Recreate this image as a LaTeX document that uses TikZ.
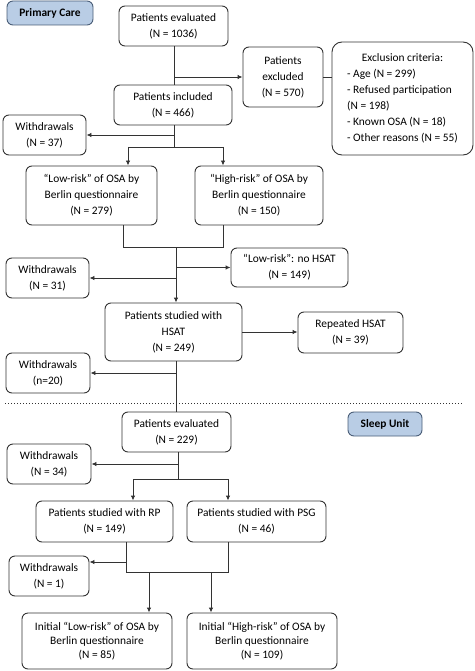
\documentclass[tikz,border=0pt]{standalone}
\usepackage{fontspec}
\setmainfont{Carlito}
\usetikzlibrary{arrows.meta}
\definecolor{boxline}{HTML}{333333}
\definecolor{bluefill}{HTML}{B9CDE5}
\definecolor{blueline}{HTML}{4A5E78}
\begin{document}
\begin{tikzpicture}[x=1pt,y=-1pt,
 box/.style={draw=boxline, line width=0.9pt, rounded corners=6pt, align=center, inner sep=0pt, font=\fontsize{11.4}{16}\selectfont},
 tightbox/.style={box, font=\fontsize{11.4}{14}\selectfont},
 conn/.style={draw=boxline, line width=0.9pt},
 arr/.style={conn, -{Latex[length=5pt,width=4.5pt]}},
 sectlabel/.style={box, fill=bluefill, draw=blueline, font=\fontsize{11.4}{14}\selectfont\bfseries}]
\useasboundingbox (0,0) rectangle (474,671);

% Primary care part
\node[sectlabel, minimum width=86pt, minimum height=24pt] (pc) at (50,13) {Primary Care};
\node[box, minimum width=109pt, minimum height=40pt] (eval1) at (173.5,26) {Patients evaluated\\(N = 1036)};
\node[box, minimum width=80pt, minimum height=60pt] (excl) at (283,77) {Patients\\excluded\\(N = 570)};
\node[box, rounded corners=10pt, minimum width=141pt, minimum height=113pt] (crit) at (402.5,98.5)
 {\begin{tabular}{@{}l@{}}\multicolumn{1}{@{}c@{}}{Exclusion criteria:}\\- Age (N = 299)\\- Refused participation\\(N = 198)\\- Known OSA (N = 18)\\- Other reasons (N = 55)\end{tabular}};
\node[box, minimum width=118pt, minimum height=40pt] (incl) at (173,105) {Patients included\\(N = 466)};
\node[box, minimum width=83pt, minimum height=40pt] (wd37) at (44.5,135) {Withdrawals\\(N = 37)};
\node[box, minimum width=131pt, minimum height=59pt] (low) at (91.5,195.5) {“Low-risk” of OSA by\\Berlin questionnaire\\(N = 279)};
\node[box, minimum width=128pt, minimum height=59pt] (high) at (259,195.5) {“High-risk” of OSA by\\Berlin questionnaire\\(N = 150)};
\node[box, minimum width=117pt, minimum height=39pt] (nohsat) at (289.5,267.5) {“Low-risk”: no HSAT\\(N = 149)};
\node[box, minimum width=83pt, minimum height=40pt] (wd31) at (47.5,278) {Withdrawals\\(N = 31)};
\node[box, minimum width=137pt, minimum height=58pt] (hsat) at (173.5,332) {Patients studied with\\HSAT\\(N = 249)};
\node[box, minimum width=105pt, minimum height=41pt] (rep) at (350.5,332.5) {Repeated HSAT\\(N = 39)};
\node[box, minimum width=84pt, minimum height=40pt] (wd20) at (48,373) {Withdrawals\\(n=20)};

% separator
\coordinate (sepL) at (5,403);
\coordinate (sepR) at (462,403);
\draw[boxline, line width=1pt, dotted] (sepL) -- (sepR);

% Sleep unit part
\node[box, minimum width=109pt, minimum height=40pt] (eval2) at (176.5,432) {Patients evaluated\\(N = 229)};
\node[sectlabel, minimum width=74pt, minimum height=24pt] (su) at (385,424) {Sleep Unit};
\node[box, minimum width=84pt, minimum height=40pt] (wd34) at (49,464) {Withdrawals\\(N = 34)};
\node[box, minimum width=137pt, minimum height=41pt] (rp) at (104.5,521.5) {Patients studied with RP\\(N = 149)};
\node[box, minimum width=139pt, minimum height=41pt] (psg) at (256.5,521.5) {Patients studied with PSG\\(N = 46)};
\node[box, minimum width=80pt, minimum height=40pt] (wd1) at (49,576) {Withdrawals\\(N = 1)};
\node[tightbox, minimum width=150pt, minimum height=56pt] (ilow) at (97,641) {Initial “Low-risk” of OSA by\\Berlin questionnaire\\(N = 85)};
\node[tightbox, minimum width=150pt, minimum height=56pt] (ihigh) at (262,641) {Initial “High-risk” of OSA by\\Berlin questionnaire\\(N = 109)};

% junction coordinates
\coordinate (v1) at (174,0);
\coordinate (j1) at (174,147);
\coordinate (a1) at (128,147);
\coordinate (a2) at (223,147);
\coordinate (b1) at (123,247);
\coordinate (b2) at (223,247);
\coordinate (b3) at (176,247);
\coordinate (d1) at (178,479);
\coordinate (d2) at (133,479);
\coordinate (d3) at (228,479);
\coordinate (e1) at (126,572);
\coordinate (e2) at (228,572);
\coordinate (e3) at (149,572);
\coordinate (e4) at (211,572);
\coordinate (e5) at (126,562);

% connectors
\draw[conn] (eval1.south -| v1) -- (incl.north -| v1);
\draw[arr] (v1 |- excl.west) -- (excl.west);
\draw[conn] (excl.east) -- (excl.east -| crit.west);
\draw[conn] (incl.south -| j1) -- (j1);
\draw[arr] (j1 |- wd37.east) -- (wd37.east);
\draw[conn] (a1) -- (a2);
\draw[arr] (a1) -- (a1 |- low.north);
\draw[arr] (a2) -- (a2 |- high.north);
\draw[conn] (b1 |- low.south) -- (b1) -- (b2) -- (b2 |- high.south);
\draw[arr] (b3) -- (b3 |- hsat.north);
\draw[arr] (b3 |- nohsat.west) -- (nohsat.west);
\draw[arr] (b3 |- wd31.east) -- (wd31.east);
\draw[arr] (hsat.east) -- (hsat.east -| rep.west);
\draw[conn] (hsat.south -| b3) -- (eval2.north -| b3);
\draw[arr] (b3 |- wd20.east) -- (wd20.east);
\draw[conn] (eval2.south -| d1) -- (d1);
\draw[arr] (d1 |- wd34.east) -- (wd34.east);
\draw[conn] (d2) -- (d3);
\draw[arr] (d2) -- (d2 |- rp.north);
\draw[arr] (d3) -- (d3 |- psg.north);
\draw[conn] (e1 |- rp.south) -- (e1) -- (e2) -- (e2 |- psg.south);
\draw[arr] (e5) -- (e5 -| wd1.east);
\draw[arr] (e3) -- (e3 |- ilow.north);
\draw[arr] (e4) -- (e4 |- ihigh.north);
\end{tikzpicture}
\end{document}
